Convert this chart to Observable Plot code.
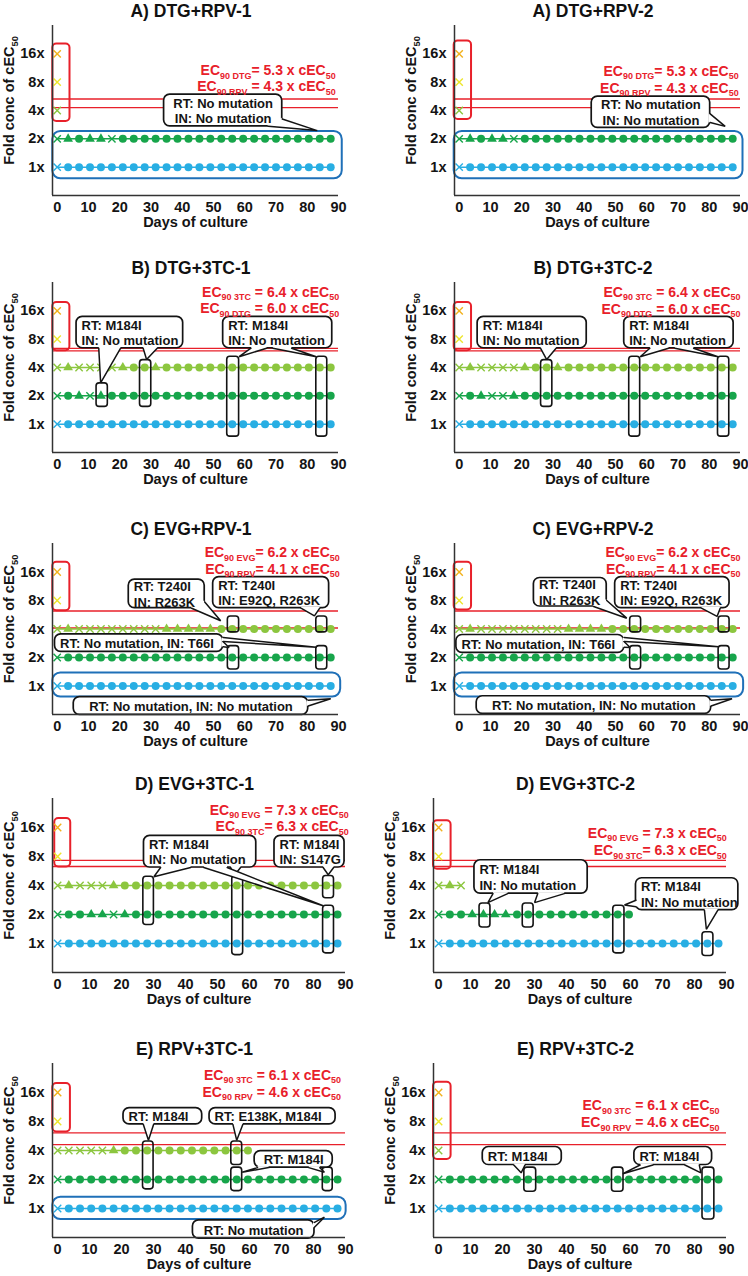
<!DOCTYPE html>
<html><head><meta charset="utf-8">
<script src="https://cdn.jsdelivr.net/npm/d3@7"></script>
<script src="https://cdn.jsdelivr.net/npm/@observablehq/plot@0.6"></script>
<style>
html,body{margin:0;padding:0;background:#fff;overflow:hidden;}
#chart{position:relative;width:748px;height:1276px;overflow:hidden;font-family:"Liberation Sans",Arial,sans-serif;}
.ptitle{position:absolute;width:300px;font-weight:bold;font-size:17.5px;line-height:22px;text-align:center;color:#111;white-space:nowrap;}
.panel{position:absolute;}
.panel svg{overflow:visible;}
</style></head><body><div id="chart"></div>
<script>
// ---------------- data ----------------
const days = [0,3.5,7,10.5,14,17.5,21,24.5,28,31.5,35,38.5,42,45.5,49,52.5,56,59.5,63,66.5,70,73.5,77,80.5,84,87.5];
const foldLevels = [16, 8, 4, 2, 1];
const levelColors = ["#f2b11c", "#ede52c", "#8cc63f", "#17a54b", "#28aee3"];
const xTicks = [0,10,20,30,40,50,60,70,80,90];
const yTicks = [1,2,4,8,16];

// marker codes per day for 16x, 8x, 4x, 2x, 1x  (x = cross, t = triangle, o = circle)
const markersA1 = ["x","x","x","xtott xoooo ooooo ooooo ooooo o","xoooo ooooo ooooo ooooo ooooo o"];
const markersA2 = ["x","x","x","xtott xoooo ooooo ooooo ooooo o","xoooo ooooo ooooo ooooo ooooo o"];
const markersB1 = ["x","x","xtxxx xtoot ooooo ooooo ooooo o","xotxt ooooo ooooo ooooo ooooo o","xoooo ooooo ooooo ooooo ooooo o"];
const markersB2 = ["x","x","xtxxx xtoot ooooo ooooo ooooo o","xotxx toooo ooooo ooooo ooooo o","xoooo ooooo ooooo ooooo ooooo o"];
const markersC1 = ["x","x","xtxxx xxxxx ttttt ooooo ooooo o","xoooo ooooo ooooo ooooo ooooo o","xoooo ooooo ooooo ooooo ooooo o"];
const markersC2 = ["x","x","xtxxx xxxxx tttto ooooo ooooo o","xoooo ooooo ooooo ooooo ooooo o","xoooo ooooo ooooo ooooo ooooo o"];
const markersD1 = ["x","x","xtxxx toooo ooooo ooooo ooooo o","xoott xtooo ooooo ooooo ooooo o","xoooo ooooo ooooo ooooo ooooo o"];
const markersD2 = ["x","x","xtx","xoott ttooo ooooo ooo","xoooo ooooo ooooo ooooo ooooo o"];
const markersE1 = ["x","x","xxxxx toooo ooooo ooo","xoooo ooooo ooooo ooooo ooooo o","xoooo ooooo ooooo ooooo ooooo o"];
const markersE2 = ["x","x","x","xoooo ooooo ooooo ooooo ooooo o","xoooo ooooo ooooo ooooo ooooo o"];

const titles = ["A) DTG+RPV-1","A) DTG+RPV-2","B) DTG+3TC-1","B) DTG+3TC-2","C) EVG+RPV-1","C) EVG+RPV-2","D) EVG+3TC-1","D) EVG+3TC-2","E) RPV+3TC-1","E) RPV+3TC-2"];

const ec90A = [5.3, 4.3], ec90B = [6.4, 6.0], ec90C = [6.2, 4.1], ec90D = [7.3, 6.3], ec90E = [6.1, 4.6];
const ecTextA = ["EC_{90 DTG}= 5.3 x cEC_{50}", "EC_{90 RPV} = 4.3 x cEC_{50}"];
const ecTextB = ["EC_{90 3TC} = 6.4 x cEC_{50}", "EC_{90 DTG} = 6.0 x cEC_{50}"];
const ecTextC = ["EC_{90 EVG}= 6.2 x cEC_{50}", "EC_{90 RPV}= 4.1 x cEC_{50}"];
const ecTextD = ["EC_{90 EVG} = 7.3 x cEC_{50}", "EC_{90 3TC}= 6.3 x cEC_{50}"];
const ecTextE = ["EC_{90 3TC} = 6.1 x cEC_{50}", "EC_{90 RPV} = 4.6 x cEC_{50}"];

const mutNone2 = "RT: No mutation\nIN: No mutation";
const mutM184 = "RT: M184I\nIN: No mutation";

// ---------------- layout / annotations (days, log2 fold) ----------------
const rows = [
  {top: 25, h: 170, plotW: 286, dom: [-1.5, 90], right: 402},
  {top: 282, h: 170, plotW: 286, dom: [-1.5, 90], right: 402},
  {top: 543, h: 171, plotW: 286, dom: [-1.5, 90], right: 402},
  {top: 798, h: 174, plotW: 293, dom: [-1.6, 90], right: 381},
  {top: 1063, h: 174, plotW: 293, dom: [-1.6, 90], right: 381}
];
const panelCfg = [
  {markers: markersA1, ec: ec90A, ecText: ecTextA, ecPos: [89.1, 3.41, 2.83], red: [-1.4,4.1,1.61,4.35], blue: [[-1.4,91.2,-0.41,1.26]], small: [],
   callouts: [{b:[34.2,72,1.44,2.56], t: mutNone2, a:"c", tails:[[67.5,1.44,83.2,1.29,72,1.7]]}]},
  {markers: markersA2, ec: ec90A, ecText: ecTextA, ecPos: [89.4, 3.38, 2.78], red: [-1.6,3.95,1.68,4.45], blue: [[-1.6,90.8,-0.41,1.26]], small: [],
   callouts: [{b:[42.4,80.3,1.39,2.49], t: mutNone2, a:"c", tails:[[80.3,1.88,85.1,1.44,80.3,1.58]]}]},
  {markers: markersB1, ec: ec90B, ecText: ecTextB, ecPos: [90.2, 4.66, 4.08], red: [-1.4,4.06,2.59,4.29], blue: [],
   small: [[12.6,16.2,0.61,1.44],[26.5,30.1,0.61,2.26],[54.4,58.2,-0.44,2.38],[82.9,86.4,-0.44,2.38]],
   callouts: [{b:[6.2,40.3,2.68,3.79], t: mutM184, a:"l", tails:[[13.3,2.68,13.9,1.46,20.3,2.68],[27.5,2.68,28.6,2.28,32,2.68]]},
              {b:[53.1,88,2.68,3.79], t: mutM184, a:"l", tails:[[62,2.68,58.2,2.38,67,2.68],[69,2.68,82.9,2.38,75,2.68]]}]},
  {markers: markersB2, ec: ec90B, ecText: ecTextB, ecPos: [90, 4.66, 4.06], red: [-1.6,3.95,2.59,4.29], blue: [],
   small: [[26.2,29.8,0.61,2.26],[54.4,57.9,-0.44,2.38],[82.8,86.4,-0.44,2.38]],
   callouts: [{b:[5.9,40.8,2.68,3.79], t: mutM184, a:"l", tails:[[26,2.68,28,2.28,31,2.68]]},
              {b:[52.8,87.8,2.68,3.79], t: mutM184, a:"l", tails:[[61,2.68,57.9,2.38,67,2.68],[69,2.68,82.8,2.38,75,2.68]]}]},
  {markers: markersC1, ec: ec90C, ecText: ecTextC, ecPos: [90.4, 4.68, 4.1], red: [-1.4,4.06,2.64,4.34], blue: [[-1.4,90.7,-0.39,0.46]],
   small: [[54.6,58.2,1.88,2.44],[82.9,86.4,1.88,2.44],[54.6,58.2,0.58,1.4],[82.9,86.4,0.58,1.4]],
   callouts: [{b:[22.9,47.2,2.73,3.73], t:"RT: T240I\nIN: R263K", a:"l", tails:[[43,2.73,52.3,2.29,47.2,2.95]]},
              {b:[49.9,87,2.73,3.82], t:"RT: T240I\nIN: E92Q, R263K", a:"l", tails:[[78,2.73,82.3,2.46,84,2.73]]},
              {b:[-0.7,53.1,1.2,1.81], t:"RT: No mutation, IN: T66I", a:"l", tails:[[53.1,1.55,55,1.35,53.1,1.38],[53.1,1.7,82.9,1.36,53.1,1.56]]},
              {b:[5.3,80.3,-1.01,-0.39], t:"RT: No mutation, IN: No mutation", a:"c", tails:[[80.3,-0.5,87.5,-0.45,80.3,-0.7]]}]},
  {markers: markersC2, ec: ec90C, ecText: ecTextC, ecPos: [90, 4.68, 4.1], red: [-1.6,3.95,2.67,4.34], blue: [[-1.6,91,-0.39,0.46]],
   small: [[54.7,58.2,1.88,2.44],[83,86.5,1.88,2.44],[54.7,58.2,0.58,1.4],[83,86.5,0.58,1.4]],
   callouts: [{b:[23.9,47.2,2.79,3.79], t:"RT: T240I\nIN: R263K", a:"l", tails:[[43,2.79,53.6,2.38,47.2,3.0]]},
              {b:[49.9,86.5,2.73,3.82], t:"RT: T240I\nIN: E92Q, R263K", a:"l", tails:[[77.5,2.73,82.5,2.44,83.5,2.73]]},
              {b:[-0.9,52.8,1.16,1.79], t:"RT: No mutation, IN: T66I", a:"l", tails:[[52.8,1.55,54.7,1.35,52.8,1.36],[52.8,1.7,83,1.38,52.8,1.56]]},
              {b:[5.6,80.6,-0.98,-0.36], t:"RT: No mutation, IN: No mutation", a:"c", tails:[[80.6,-0.5,87.3,-0.45,80.6,-0.7]]}]},
  {markers: markersD1, ec: ec90D, ecText: ecTextD, ecPos: [91, 4.6, 4.02], red: [-0.9,4.1,2.64,4.31], blue: [],
   small: [[26.8,30.1,0.64,2.3],[54.6,58,-0.4,2.33],[83,86.4,1.56,2.33],[83,86.4,-0.34,1.3]],
   callouts: [{b:[27,62.1,2.62,3.71], t: mutM184, a:"l", tails:[[32.2,2.62,30.1,2.3,41.6,2.62],[54.1,2.62,55.1,2.33,57.2,2.62],[45.7,2.62,83,1.3,53,2.62]]},
              {b:[67.8,89.7,2.62,3.71], t:"RT: M184I\nIN: S147G", a:"l", tails:[[83,2.62,84.6,2.37,86.3,2.62]]}]},
  {markers: markersD2, ec: ec90D, ecText: ecTextD, ecPos: [90.1, 3.8, 3.2], red: [-1.6,3.9,2.56,4.23], blue: [],
   small: [[12.8,16.2,0.55,1.38],[26.3,29.7,0.55,1.38],[54.6,58.1,-0.34,1.3],[82.5,85.9,-0.43,0.39]],
   callouts: [{b:[11.2,46.6,1.72,2.87], t: mutM184, a:"l", tails:[[17,1.72,15.4,1.41,21.6,1.72],[31,1.72,30,1.41,39.3,1.72]]},
              {b:[61.7,93.7,1.15,2.25], t: mutM184, a:"l", tails:[[61.7,1.49,58.1,1.33,61.7,1.27],[83.1,1.15,83.7,0.49,87.3,1.15]]}]},
  {markers: markersE1, ec: ec90E, ecText: ecTextE, ecPos: [88.6, 4.6, 4.0], red: [-1.5,4.0,2.64,4.31], blue: [[-1.5,90.2,-0.38,0.39]],
   small: [[26.7,30,0.66,2.31],[54.3,57.7,1.5,2.31],[54.3,57.7,0.6,1.41],[82.9,86,0.6,1.41]],
   callouts: [{b:[20.6,45.2,2.9,3.46], t:"RT: M184I", a:"l", tails:[[26.8,2.9,28.4,2.35,30,2.9]]},
              {b:[47.5,86.9,2.9,3.46], t:"RT: E138K, M184I", a:"l", tails:[[54.8,2.9,56,2.35,57.9,2.9]]},
              {b:[61.6,86,1.41,1.98], t:"RT: M184I", a:"c", tails:[[62.5,1.41,57.7,1.25,66,1.41],[78.5,1.41,83.4,1.25,82,1.41]]},
              {b:[42.3,80.3,-1.04,-0.41], t:"RT: No mutation", a:"c", tails:[[80.3,-0.48,83.4,-0.3,80.3,-0.65]]}]},
  {markers: markersE2, ec: ec90E, ecText: ecTextE, ecPos: [87.8, 3.54, 2.96], red: [-1.6,3.9,1.69,4.35], blue: [],
   small: [[26.8,30.5,0.58,1.41],[54.2,57.8,0.58,1.41],[82.5,86.2,-0.38,1.41]],
   callouts: [{b:[13.8,38.5,1.5,2.12], t:"RT: M184I", a:"l", tails:[[23.5,1.5,25.8,1.23,27,1.5]]},
              {b:[61.2,85.5,1.5,2.12], t:"RT: M184I", a:"l", tails:[[63,1.5,57.6,1.2,67,1.5],[77,1.5,82,1.23,81.5,1.5]]}]}
];

const RED = "#e8202a", BLUE = "#1f70b8", INK = "#141414";
const FONT = "Liberation Sans, Arial, sans-serif";
const L = v => 2 ** v;

function subscripts(svg) {
  svg.querySelectorAll("text").forEach(t => {
    if (t.children.length) return;
    const s = t.textContent;
    if (!s.includes("_{")) return;
    t.textContent = "";
    let shifted = false;
    for (const p of s.split(/(_\{[^}]*\})/)) {
      if (!p) continue;
      const ts = document.createElementNS("http://www.w3.org/2000/svg", "tspan");
      if (p.startsWith("_{")) {
        ts.textContent = p.slice(2, -1);
        ts.setAttribute("font-size", "0.64em");
        ts.setAttribute("dy", "3.5");
        shifted = true;
      } else {
        ts.textContent = p;
        if (shifted) { ts.setAttribute("dy", "-3.5"); shifted = false; }
      }
      t.appendChild(ts);
    }
  });
}

const chart = document.getElementById("chart");

panelCfg.forEach((cfg, i) => {
  const row = rows[Math.floor(i / 2)];
  const col = i % 2;
  const left = col ? row.right : 0;
  const mL = 52, mR = 7, mT = 25, mB = 50;

  const pts = [];
  cfg.markers.forEach((s, li) => {
    [...s.replace(/ /g, "")].forEach((c, k) => pts.push({day: days[k], fold: foldLevels[li], code: c, color: levelColors[li], level: li}));
  });

  const boxX1 = d => d[0], boxX2 = d => d[1], boxY1 = d => L(d[2]), boxY2 = d => L(d[3]);
  const callouts = cfg.callouts;
  const tailPts = [], tailBases = [];
  callouts.forEach((c, ci) => c.tails.forEach((t, ti) => {
    const id = ci + "-" + ti;
    tailPts.push({id, x: t[0], y: L(t[1])}, {id, x: t[2], y: L(t[3])}, {id, x: t[4], y: L(t[5])});
    tailBases.push(t);
  }));
  const ecLabels = cfg.ecText.map((t, k) => ({t, x: cfg.ecPos[0], y: L(cfg.ecPos[k + 1])}));

  const svg = Plot.plot({
    width: mL + row.plotW + mR,
    height: mT + row.h + mB,
    marginLeft: mL, marginRight: mR, marginTop: mT, marginBottom: mB,
    style: {fontFamily: FONT, fontSize: "14px", fontWeight: "bold", color: INK, background: "transparent", overflow: "visible"},
    x: {domain: row.dom},
    y: {type: "log", base: 2, domain: [0.5, 32]},
    color: {type: "identity"},
    marks: [
      Plot.ruleY(cfg.ec, {stroke: RED, strokeWidth: 1.3}),
      Plot.rect(cfg.blue, {x1: boxX1, x2: boxX2, y1: boxY1, y2: boxY2, rx: 8, fill: "none", stroke: BLUE, strokeWidth: 2}),
      Plot.rect([cfg.red], {x1: boxX1, x2: boxX2, y1: boxY1, y2: boxY2, rx: 4, fill: "none", stroke: RED, strokeWidth: 2}),
      Plot.line(pts, {x: "day", y: "fold", z: "level", stroke: "color", strokeWidth: 1.5}),
      Plot.dot(pts.filter(d => d.code === "o"), {x: "day", y: "fold", r: 4, fill: "color", symbol: "circle"}),
      Plot.dot(pts.filter(d => d.code === "t"), {x: "day", y: "fold", r: 3.6, fill: "color", symbol: "triangle"}),
      Plot.dot(pts.filter(d => d.code === "x"), {x: "day", y: "fold", r: 3.4, stroke: "color", fill: "none", strokeWidth: 1.4, symbol: "times"}),
      Plot.rect(cfg.small, {x1: boxX1, x2: boxX2, y1: boxY1, y2: boxY2, rx: 3, fill: "none", stroke: INK, strokeWidth: 1.6}),
      Plot.rect(callouts.map(c => c.b), {x1: boxX1, x2: boxX2, y1: boxY1, y2: boxY2, rx: 6, fill: "white", stroke: INK, strokeWidth: 1.7}),
      Plot.link(tailBases, {x1: d => d[0], y1: d => L(d[1]), x2: d => d[4], y2: d => L(d[5]), stroke: "white", strokeWidth: 3}),
      Plot.line(tailPts, {x: "x", y: "y", z: "id", fill: "white", stroke: INK, strokeWidth: 1.5, strokeLinejoin: "miter"}),
      Plot.text(callouts.filter(c => c.a === "l"), {x: c => c.b[0], y: c => L((c.b[2] + c.b[3]) / 2), text: "t", textAnchor: "start", dx: 5, fontSize: 13, fontWeight: "bold", lineHeight: 1.2, fill: INK}),
      Plot.text(callouts.filter(c => c.a === "c"), {x: c => (c.b[0] + c.b[1]) / 2, y: c => L((c.b[2] + c.b[3]) / 2), text: "t", textAnchor: "middle", fontSize: 13, fontWeight: "bold", lineHeight: 1.2, fill: INK}),
      Plot.text(ecLabels, {x: "x", y: "y", text: "t", textAnchor: "end", fill: RED, fontSize: 14, fontWeight: "bold"}),
      Plot.ruleX([row.dom[0]], {stroke: "#333", strokeWidth: 1.5}),
      Plot.ruleY([0.5], {stroke: "#333", strokeWidth: 1.5}),
      Plot.axisX({ticks: xTicks, tickSize: 0, tickPadding: 6, fontSize: 14.5, fontWeight: "bold", label: null}),
      Plot.axisY({ticks: yTicks, tickFormat: d => d + "x", tickSize: 0, tickPadding: 8, fontSize: 14.5, fontWeight: "bold", label: null}),
      Plot.text(["Fold conc of cEC_{50}"], {frameAnchor: "left", text: d => d, rotate: -90, dx: -43, dy: -10, textAnchor: "middle", fontSize: 14.5, fontWeight: "bold", fill: INK}),
      Plot.text(["Days of culture"], {frameAnchor: "bottom", text: d => d, dy: 31, textAnchor: "middle", fontSize: 14.5, fontWeight: "bold", fill: INK})
    ]
  });
  subscripts(svg);

  const wrap = document.createElement("div");
  wrap.className = "panel";
  wrap.style.left = left + "px";
  wrap.style.top = (row.top - mT) + "px";
  wrap.appendChild(svg);
  chart.appendChild(wrap);

  const t = document.createElement("div");
  t.className = "ptitle";
  t.textContent = titles[i];
  t.style.left = (left + mL + row.plotW / 2 - 4 - 150) + "px";
  t.style.top = (row.top - 25) + "px";
  chart.appendChild(t);
});
</script></body></html>
